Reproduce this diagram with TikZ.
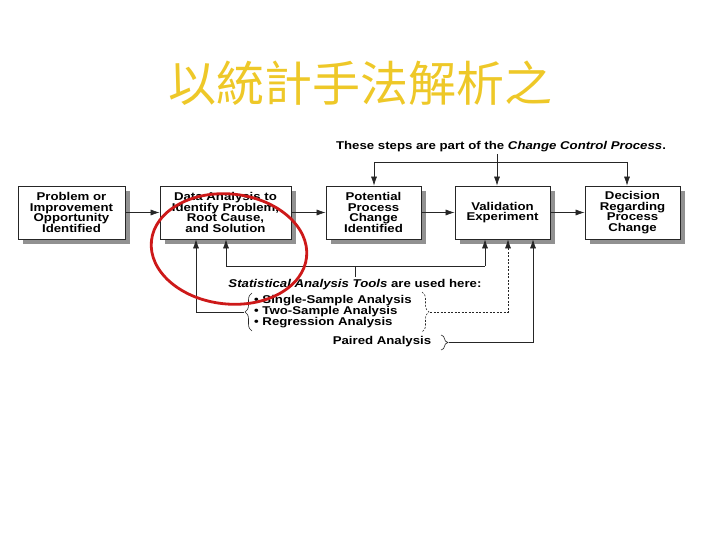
\documentclass[tikz,border=0pt]{standalone}
\usepackage{fontspec}
\setmainfont{Liberation Sans}[FakeStretch=1.17]
\newfontfamily\cjk{Noto Sans CJK TC}
\usetikzlibrary{arrows.meta,shadows,decorations.pathreplacing}
\definecolor{titlegold}{RGB}{238,200,40}
\definecolor{shadowgray}{RGB}{145,145,145}
\definecolor{circred}{RGB}{205,25,25}
\tikzset{
  box/.style={draw=black!85, line width=0.8pt, fill=white, minimum height=53pt,
    align=center, font=\fontsize{11.3}{10.7}\selectfont\bfseries, inner sep=1pt,
    drop shadow={shadow xshift=5pt, shadow yshift=-5pt, fill=shadowgray, opacity=1}},
  arr/.style={draw=black!85, line width=0.6pt, -{Latex[length=9pt,width=6pt]}},
  ln/.style={draw=black!85, line width=0.6pt},
  lbl/.style={font=\fontsize{11.3}{10.7}\selectfont\bfseries, inner sep=0pt},
  brc/.style={draw=black!85, line width=0.6pt, decorate, decoration={brace, amplitude=7pt}}
}
\begin{document}
\begin{tikzpicture}[x=1pt,y=-1pt]
\useasboundingbox (0,0) rectangle (720,540);
\node[font=\cjk\fontsize{48}{50}\selectfont, text=titlegold] (title) at (360,83) {以統計手法解析之};

\node[box, minimum width=107pt] (b1) at (71.5,212.5) {Problem or\\Improvement\\Opportunity\\Identified};
\node[box, minimum width=131pt] (b2) at (225.5,212.5) {Data Analysis to\\Identify Problem,\\Root Cause,\\and Solution};
\node[box, minimum width=95pt] (b3) at (373.5,212.5) {Potential\\Process\\Change\\Identified};
\node[box, minimum width=95pt] (b4) at (502.5,212.5) {Validation\\Experiment};
\node[box, minimum width=95pt] (b5) at (632.5,212.5) {Decision\\Regarding\\Process\\Change};

\draw[arr] (b1) -- (b2);
\draw[arr] (b2) -- (b3);
\draw[arr] (b3) -- (b4);
\draw[arr] (b4) -- (b5);

% top
\node[lbl] (top) at (501,147) {These steps are part of the \textit{Change Control Process}.};
\coordinate (ts) at (497,154);
\coordinate (t3) at (374,162);
\coordinate (t4) at (497,162);
\coordinate (t5) at (627,162);
\draw[ln] (ts) -- (t4);
\draw[ln] (t3) -- (t5);
\draw[arr] (t3) -- (t3 |- b3.north);
\draw[arr] (t4) -- (t4 |- b4.north);
\draw[arr] (t5) -- (t5 |- b5.north);

% bottom
\coordinate (h1) at (226,266);
\coordinate (h2) at (485,266);
\coordinate (hs) at (355,266);
\coordinate (hse) at (355,277);
\draw[ln] (h1) -- (h2);
\draw[ln] (hs) -- (hse);
\draw[arr] (h1) -- (h1 |- b2.south);
\draw[arr] (h2) -- (h2 |- b4.south);

\node[lbl] (sat) at (355,285) {\textit{Statistical Analysis Tools} are used here:};
\node[lbl, align=left, anchor=west] (list) at (254,311.5) {• Single-Sample Analysis\\• Two-Sample Analysis\\• Regression Analysis};
\node[lbl] (paired) at (382,342) {Paired Analysis};

% left brace
\draw[brc] (252,331) -- (252,293);
\coordinate (lb) at (244,312);
\coordinate (lc) at (196,312);
\draw[arr] (lb) -- (lc) -- (lc |- b2.south);

% right dashed brace
\draw[brc, dashed, dash pattern=on 2pt off 1.5pt] (422,292) -- (422,332);
\coordinate (rb) at (430,312);
\coordinate (rc) at (508,312);
\draw[arr, dashed, dash pattern=on 2pt off 1.5pt] (rb) -- (rc) -- (rc |- b4.south);

% paired brace
\draw[brc] (441,335) -- (441,350);
\coordinate (pb) at (449,342.5);
\coordinate (pc) at (533,342.5);
\draw[arr] (pb) -- (pc) -- (pc |- b4.south);

% red circle
\draw[circred, line width=2.8pt, rotate around={-6:(229,249)}] (229,249) ellipse [x radius=78, y radius=55];
\end{tikzpicture}
\end{document}
